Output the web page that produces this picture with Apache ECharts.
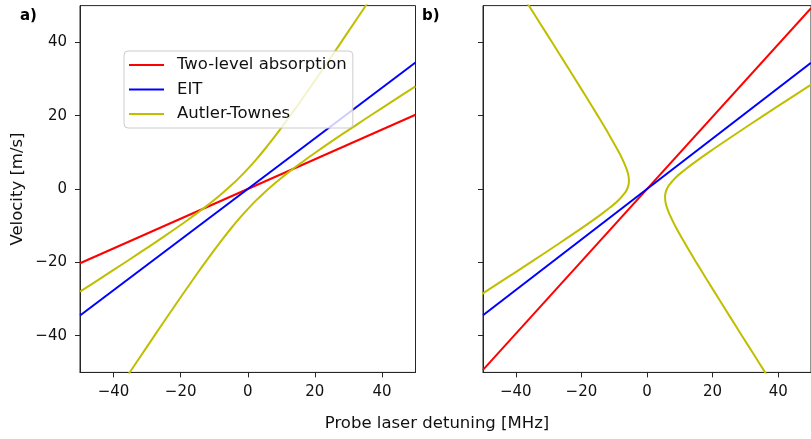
<!DOCTYPE html>
<html>
<head>
<meta charset="utf-8">
<script src="https://cdn.jsdelivr.net/npm/echarts@6/dist/echarts.min.js"></script>
<style>
html,body{margin:0;padding:0;background:#fff;}
#chart{width:811px;height:439px;}
</style>
</head>
<body>
<div id="chart"></div>
<script>
// ---- data ----
const xTicks = [-40, -20, 0, 20, 40];
const yTicks = [-40, -20, 0, 20, 40];
const legendNames = ['Two-level absorption', 'EIT', 'Autler-Townes'];

// panel a) straight lines (endpoints at detuning -50 and 50)
const lineDetuning = [-50, 50];
const twoLevelA = [-20.25, 20.25];
const eitA = [-34.5, 34.5];
// panel b) straight lines
const twoLevelB = [-49.3, 49.3];
const eitB = [-34.4, 34.4];

// panel a) Autler-Townes, upper branch
const atUpperA_det = [-50, -45, -40, -35, -30, -25, -20, -17.5, -15, -12.5, -10, -7.5, -5, -2.5, 0, 2.5, 5, 7.5, 10, 12.5, 15, 17.5, 20, 25, 30, 35, 36];
const atUpperA_vel = [-27.98, -25.03, -22.07, -19.08, -16.05, -12.98, -9.82, -8.19, -6.52, -4.80, -3.00, -1.10, 0.93, 3.11, 5.48, 8.03, 10.77, 13.66, 16.67, 19.79, 22.98, 26.23, 29.52, 36.20, 42.96, 49.77, 51.13];
// panel a) Autler-Townes, lower branch
const atLowerA_det = [-36, -35, -30, -25, -20, -17.5, -15, -12.5, -10, -7.5, -5, -2.5, 0, 2.5, 5, 7.5, 10, 12.5, 15, 17.5, 20, 25, 30, 35, 40, 45, 50];
const atLowerA_vel = [-51.13, -49.77, -42.96, -36.20, -29.52, -26.23, -22.98, -19.79, -16.67, -13.66, -10.77, -8.03, -5.48, -3.11, -0.93, 1.10, 3.00, 4.80, 6.52, 8.19, 9.82, 12.98, 16.05, 19.08, 22.07, 25.03, 27.98];

// panel b) Autler-Townes, left branch
const atLeftB_det = [-52.67, -49.22, -44.07, -35.52, -27.06, -18.80, -14.10, -11.18, -8.62, -6.69, -6.05, -5.66, -5.51, -5.55, -5.74, -6.05, -6.92, -8.55, -11.69, -15.02, -18.45, -21.93, -25.43, -28.94, -32.48, -36.01, -37.43];
const atLeftB_vel = [-30, -28, -25, -20, -15, -10, -7, -5, -3, -1, 0, 1, 2, 3, 4, 5, 7, 10, 15, 20, 25, 30, 35, 40, 45, 50, 52];
// panel b) Autler-Townes, right branch
const atRightB_det = [52.67, 49.22, 44.07, 35.52, 27.06, 18.80, 14.10, 11.18, 8.62, 6.69, 6.05, 5.66, 5.51, 5.55, 5.74, 6.05, 6.92, 8.55, 11.69, 15.02, 18.45, 21.93, 25.43, 28.94, 32.48, 36.01, 37.43];
const atRightB_vel = [30, 28, 25, 20, 15, 10, 7, 5, 3, 1, 0, -1, -2, -3, -4, -5, -7, -10, -15, -20, -25, -30, -35, -40, -45, -50, -52];

// ---- build ----
const zip = (a, b) => a.map((v, i) => [v, b[i]]);
const RED = '#ff0000', BLUE = '#0000ff', YEL = '#bfbf00';
const FONT = 'DejaVu Sans';
const AX = '#262626';
const fmt = v => String(v).replace('-', '\u2212');

function mkX(idx) {
  return {
    type: 'value', gridIndex: idx, min: -50, max: 50,
    splitLine: {show: false},
    axisLine: {show: true, onZero: false, lineStyle: {color: AX, width: 1}},
    axisTick: {show: true, length: 5, customValues: xTicks, lineStyle: {color: AX, width: 1}},
    axisLabel: {show: true, customValues: xTicks, margin: 12, fontFamily: FONT, fontSize: 15, color: '#111', formatter: fmt}
  };
}
function mkY(idx, labels) {
  return {
    type: 'value', gridIndex: idx, min: -50, max: 50,
    splitLine: {show: false},
    axisLine: {show: true, onZero: false, lineStyle: {color: AX, width: 1}},
    axisTick: {show: true, length: 5, customValues: yTicks, lineStyle: {color: AX, width: 1}},
    axisLabel: {show: labels, customValues: yTicks, margin: 13, fontFamily: FONT, fontSize: 15, color: '#111', formatter: fmt}
  };
}
function ser(name, data, color, idx, smooth) {
  return {
    type: 'line', name: name, xAxisIndex: idx, yAxisIndex: idx,
    data: data, symbol: 'none', showSymbol: false, smooth: smooth ? 0.4 : false,
    clip: true, lineStyle: {color: color, width: 2}, itemStyle: {color: color},
    emphasis: {disabled: true}, animation: false
  };
}

const chart = echarts.init(document.getElementById('chart'), null, {renderer: 'canvas'});
chart.setOption({
  backgroundColor: '#fff',
  animation: false,
  grid: [
    {left: 80, top: 5.6, width: 335.5, height: 366.8, show: true, borderColor: AX, borderWidth: 1, backgroundColor: 'transparent'},
    {left: 483, top: 5.6, width: 335.5, height: 366.8, show: true, borderColor: AX, borderWidth: 1, backgroundColor: 'transparent'}
  ],
  xAxis: [mkX(0), mkX(1)],
  yAxis: [mkY(0, true), mkY(1, false)],
  legend: {
    data: legendNames,
    orient: 'vertical', left: 124, top: 51,
    icon: 'rect', itemWidth: 35, itemHeight: 2, itemGap: 6.5,
    padding: [5, 6, 5, 5],
    backgroundColor: 'rgba(255,255,255,0.8)', borderColor: '#cccccc', borderWidth: 1, borderRadius: 4,
    textStyle: {fontFamily: FONT, fontSize: 16.5, color: '#111', lineHeight: 18, padding: [0, 0, 0, 8]},
    selectedMode: false
  },
  graphic: [
    {type: 'text', left: 20, top: 9, style: {text: 'a)', font: 'bold 15px "DejaVu Sans"', fill: '#000'}},
    {type: 'text', left: 422, top: 9, style: {text: 'b)', font: 'bold 15px "DejaVu Sans"', fill: '#000'}},
    {type: 'text', x: 18, y: 189, rotation: Math.PI / 2, style: {text: 'Velocity [m/s]', font: '16.5px "DejaVu Sans"', fill: '#111', align: 'center', verticalAlign: 'middle'}},
    {type: 'text', x: 437, y: 424, style: {text: 'Probe laser detuning [MHz]', font: '16.5px "DejaVu Sans"', fill: '#111', align: 'center', verticalAlign: 'middle'}}
  ],
  series: [
    ser('Two-level absorption', zip(lineDetuning, twoLevelA), RED, 0, false),
    ser('EIT', zip(lineDetuning, eitA), BLUE, 0, false),
    ser('Autler-Townes', zip(atUpperA_det, atUpperA_vel), YEL, 0, true),
    ser('Autler-Townes', zip(atLowerA_det, atLowerA_vel), YEL, 0, true),
    ser('Two-level absorption', zip(lineDetuning, twoLevelB), RED, 1, false),
    ser('EIT', zip(lineDetuning, eitB), BLUE, 1, false),
    ser('Autler-Townes', zip(atLeftB_det, atLeftB_vel), YEL, 1, true),
    ser('Autler-Townes', zip(atRightB_det, atRightB_vel), YEL, 1, true)
  ]
});
</script>
</body>
</html>
